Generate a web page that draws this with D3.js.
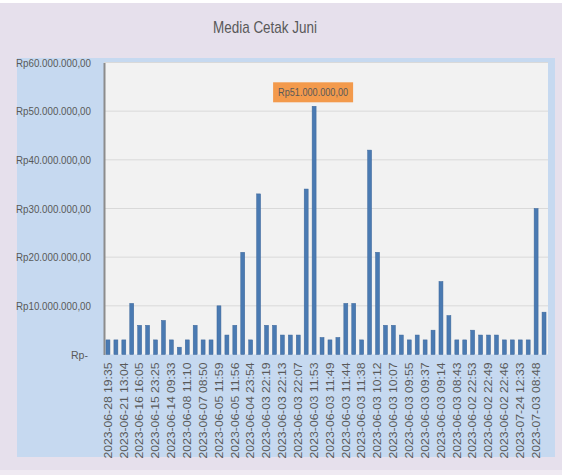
<!DOCTYPE html>
<html>
<head>
<meta charset="utf-8">
<script src="https://cdn.jsdelivr.net/npm/d3@7"></script>
<style>
  html, body { margin: 0; padding: 0; background: #ffffff; }
  svg { display: block; }
  text { font-family: "Liberation Sans", Arial, sans-serif; fill: #595959; }
</style>
</head>
<body>
<div id="chart"></div>
<script>
// judul grafik
var title = "Media Cetak Juni";

// label sumbu x (hanya setiap batang ganjil yang diberi label)
var tickLabels = [
  "2023-06-28 19:35", "2023-06-21 13:04", "2023-06-16 16:05", "2023-06-15 23:25",
  "2023-06-14 09:33", "2023-06-08 11:10", "2023-06-07 08:50", "2023-06-05 11:59",
  "2023-06-05 11:56", "2023-06-04 23:54", "2023-06-03 22:19", "2023-06-03 22:13",
  "2023-06-03 22:07", "2023-06-03 11:53", "2023-06-03 11:49", "2023-06-03 11:44",
  "2023-06-03 11:38", "2023-06-03 10:12", "2023-06-03 10:07", "2023-06-03 09:55",
  "2023-06-03 09:37", "2023-06-03 09:14", "2023-06-03 08:43", "2023-06-02 22:53",
  "2023-06-02 22:49", "2023-06-02 22:46", "2023-07-24 12:33", "2023-07-03 08:48"
];

// nilai (juta rupiah) per batang
var values = [
  3, 3, 3, 10.5, 6, 6, 3, 7, 3, 1.5, 3, 6, 3, 3,
  10, 4, 6, 21, 3, 33, 6, 6, 4, 4, 4, 34, 51, 3.5, 3,
  3.5, 10.5, 10.5, 3, 42, 21, 6, 6, 4, 3, 4, 3, 5, 15, 8,
  3, 3, 5, 4, 4, 4, 3, 3, 3, 3, 30, 8.7
];

// tick sumbu y
var yTicks = [0, 10, 20, 30, 40, 50, 60];

var W = 562, H = 475;
var plot = { left: 104, right: 548, top: 62.5, bottom: 354.5 };

var idr = d3.formatLocale({
  decimal: ",", thousands: ".", grouping: [3], currency: ["Rp", ""]
});
var fmtRp = idr.format("$,.2f");
function rp(v) {
  return v === 0 ? "Rp-" : fmtRp(v * 1e6);
}

var svg = d3.select("#chart").append("svg")
  .attr("width", W).attr("height", H);

// latar luar
svg.append("rect").attr("x", 0).attr("y", 3).attr("width", W).attr("height", H - 3)
  .attr("fill", "#e6e0ec");
svg.append("rect").attr("x", 0).attr("y", 470).attr("width", W).attr("height", 5)
  .attr("fill", "#efeaf2");

// area biru
svg.append("rect").attr("x", 17).attr("y", 58).attr("width", 538).attr("height", 399)
  .attr("fill", "#c6d9f0");

// area plot
svg.append("rect").attr("x", plot.left).attr("y", plot.top)
  .attr("width", plot.right - plot.left).attr("height", plot.bottom - plot.top)
  .attr("fill", "#f2f2f2");

svg.append("text")
  .attr("x", 265).attr("y", 33)
  .attr("text-anchor", "middle")
  .attr("font-size", 17)
  .attr("textLength", 104)
  .attr("lengthAdjust", "spacingAndGlyphs")
  .text(title);

var x = d3.scaleBand()
  .domain(d3.range(values.length))
  .range([plot.left, plot.right])
  .paddingInner(0.5)
  .paddingOuter(0.25);

var y = d3.scaleLinear()
  .domain([0, 60])
  .range([plot.bottom, plot.top]);

// garis grid
svg.append("g").selectAll("line")
  .data(yTicks.filter(function(d) { return d > 0; }))
  .join("line")
  .attr("x1", plot.left).attr("x2", plot.right)
  .attr("y1", function(d) { return y(d); })
  .attr("y2", function(d) { return y(d); })
  .attr("stroke", "#d9d9d9").attr("stroke-width", 1);

// sumbu y
var yAxis = svg.append("g")
  .attr("transform", "translate(" + plot.left + ",0)")
  .call(d3.axisLeft(y).tickValues(yTicks).tickFormat(rp).tickSize(0).tickPadding(13));
yAxis.select(".domain").attr("stroke", "#8c8c8c").attr("stroke-width", 2);
yAxis.selectAll("text")
  .attr("font-size", 11)
  .attr("dx", function(d) { return d === 0 ? -3 : 0; })
  .attr("textLength", function(d) { return d === 0 ? 17 : 75; })
  .attr("lengthAdjust", "spacingAndGlyphs")
  .style("font-family", "\"Liberation Sans\", Arial, sans-serif")
  .attr("fill", "#595959");

// batang
svg.append("g").selectAll("rect")
  .data(values)
  .join("rect")
  .attr("x", function(d, i) { return x(i); })
  .attr("width", x.bandwidth())
  .attr("y", function(d) { return y(d); })
  .attr("height", function(d) { return y(0) - y(d); })
  .attr("fill", "#4a7ab2")
  .attr("stroke", "#3d679a")
  .attr("stroke-width", 0.5);

// sumbu x
var xAxis = svg.append("g")
  .attr("transform", "translate(0," + plot.bottom + ")")
  .call(d3.axisBottom(x)
    .tickValues(d3.range(0, values.length, 2))
    .tickFormat(function(i) { return tickLabels[i / 2]; })
    .tickSize(0));
xAxis.select(".domain").remove();
xAxis.selectAll("text")
  .attr("font-size", 10.5)
  .attr("textLength", 96)
  .attr("lengthAdjust", "spacingAndGlyphs")
  .style("font-family", "\"Liberation Sans\", Arial, sans-serif")
  .attr("fill", "#595959")
  .attr("text-anchor", "end")
  .attr("transform", "rotate(-90)")
  .attr("x", -8).attr("y", 0).attr("dy", "0.35em");

// label data maksimum
var maxI = d3.maxIndex(values);
var cx = x(maxI) + x.bandwidth() / 2;
var lab = svg.append("g");
lab.append("rect")
  .attr("x", cx - 41).attr("y", y(values[maxI]) - 24)
  .attr("width", 80).attr("height", 20)
  .attr("fill", "#f39a4c");
lab.append("text")
  .attr("x", cx - 1).attr("y", y(values[maxI]) - 10.5)
  .attr("text-anchor", "middle")
  .attr("font-size", 10.5)
  .attr("textLength", 70)
  .attr("lengthAdjust", "spacingAndGlyphs")
  .attr("fill", "#404040")
  .text(rp(values[maxI]));
</script>
</body>
</html>
